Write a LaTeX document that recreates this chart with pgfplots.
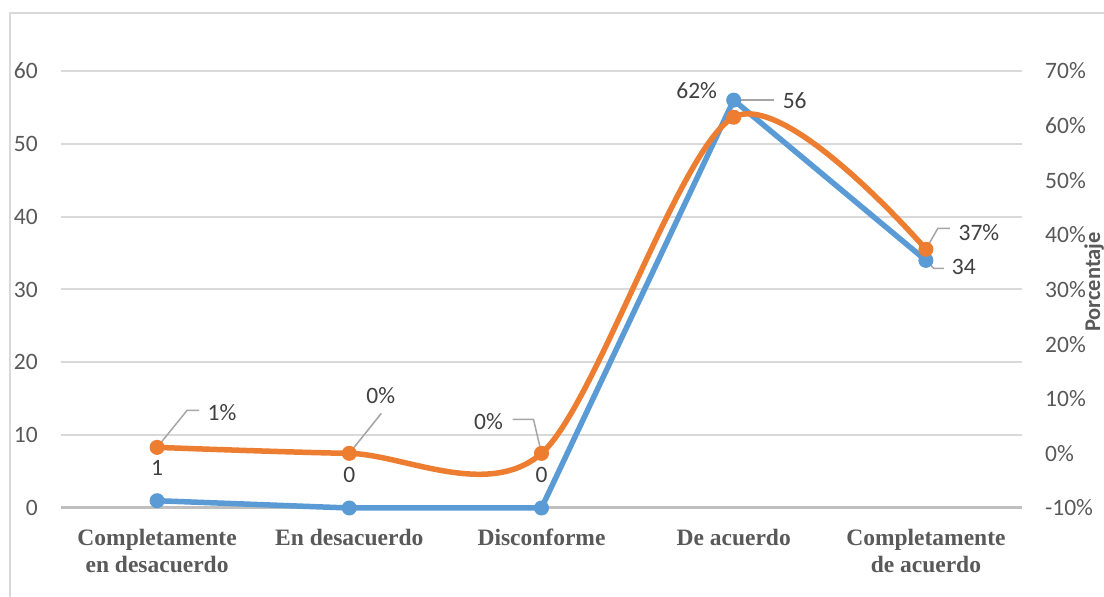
\documentclass[border=0pt]{standalone}
\usepackage{fontspec}
\setmainfont{Carlito}
\newfontfamily\catfont{Liberation Serif}
\usepackage{pgfplots}
\pgfplotsset{compat=1.18}
\definecolor{cblue}{HTML}{5B9BD5}
\definecolor{corange}{HTML}{ED7D31}
\definecolor{gridc}{HTML}{D9D9D9}
\definecolor{axisc}{HTML}{BFBFBF}
\definecolor{tickc}{HTML}{595959}
\definecolor{labc}{HTML}{404040}
\definecolor{leadc}{HTML}{A6A6A6}
\pgfplotsset{
  base/.style={
    scale only axis, width=961pt, height=437pt,
    xmin=-0.5, xmax=4.5, clip=false,
    /pgf/number format/assume math mode=true,
    tick label style={font=\fontsize{23.5}{27}\selectfont, text=tickc},
    major tick length=0pt,
  },
}
\tikzset{
  dl/.style={font=\fontsize{23.5}{27}\selectfont, text=labc, inner sep=0pt},
  ll/.style={draw=leadc, line width=1.5pt},
}
\begin{document}
\begin{tikzpicture}
\path[use as bounding box] (-61pt,-89pt) rectangle (1043pt,508pt);
\clip (-61pt,-89pt) rectangle (1043pt,508pt);
\fill[white] (-61pt,-89pt) rectangle (1043pt,508pt);
\draw[gridc, line width=2pt] (-51pt,-120pt) -- (-51pt,495pt) -- (1120pt,495pt);
\begin{axis}[base,
  ymin=0, ymax=60, ytick={0,10,...,60},
  axis x line*=bottom, axis y line*=left,
  x axis line style={-, draw=axisc, line width=3pt},
  y axis line style={draw=none},
  ymajorgrids, major grid style={gridc, line width=2pt},
  xtick={0,1,2,3,4},
  xticklabels={{Completamente\\en desacuerdo}, {En desacuerdo}, {Disconforme}, {De acuerdo}, {Completamente\\de acuerdo}},
  xticklabel style={align=center, font=\catfont\bfseries\fontsize{23.5}{26.7}\selectfont, text=tickc, anchor=north, inner sep=0pt, yshift=-21pt},
  yticklabel style={anchor=east, inner sep=0pt, xshift=-23pt},
]
\addplot[cblue, line width=5.5pt, line join=round, mark=*, mark size=7pt,
  mark options={fill=cblue, draw=cblue, line width=1pt}]
  coordinates {(0,1) (1,0) (2,0) (3,56) (4,34)};
\node[dl, yshift=32.7pt] at (axis cs:0,1) {1};
\node[dl, yshift=33pt] at (axis cs:1,0) {0};
\node[dl, yshift=33pt] at (axis cs:2,0) {0};
\draw[ll] (axis cs:3,56) -- ++(40pt,0pt);
\node[dl, xshift=61pt, yshift=-1pt] at (axis cs:3,56) {56};
\draw[ll] (axis cs:4,34) -- ++(8pt,-8pt) -- ++(10pt,0pt);
\node[dl, xshift=38pt, yshift=-7pt] at (axis cs:4,34) {34};
\end{axis}
\begin{axis}[base,
  ymin=-10, ymax=70, ytick={-10,0,...,70},
  yticklabels={-10\%,0\%,10\%,20\%,30\%,40\%,50\%,60\%,70\%},
  axis x line=none, axis y line*=right,
  y axis line style={draw=none},
  yticklabel style={anchor=west, inner sep=0pt, xshift=23pt},
]
\addplot[corange, line width=5.5pt, line join=round, smooth, tension=0.5, mark=*, mark size=7pt,
  mark options={fill=corange, draw=corange, line width=1pt}]
  coordinates {(0,1.0989) (1,0) (2,0) (3,61.538) (4,37.363)};
\draw[ll] (axis cs:0,1.0989) -- ++(30pt,37pt) -- ++(12pt,0pt);
\node[dl, xshift=65pt, yshift=35pt] at (axis cs:0,1.0989) {1\%};
\draw[ll] (axis cs:1,0) -- ++(32pt,40pt);
\node[dl, xshift=31.5pt, yshift=57.5pt] at (axis cs:1,0) {0\%};
\draw[ll] (axis cs:2,0) -- ++(-8pt,34pt) -- ++(-21pt,0pt);
\node[dl, xshift=-53pt, yshift=31.6pt] at (axis cs:2,0) {0\%};
\node[dl, xshift=-37pt, yshift=26.6pt] at (axis cs:3,61.538) {62\%};
\draw[ll] (axis cs:4,37.363) -- ++(12pt,21pt) -- ++(12pt,0pt);
\node[dl, xshift=53pt, yshift=17pt] at (axis cs:4,37.363) {37\%};
\end{axis}
\node[rotate=90, anchor=base, inner sep=0pt, text=tickc, font=\bfseries\fontsize{22.5}{27}\selectfont] at (1039pt,226pt) {Porcentaje};
\end{tikzpicture}
\end{document}
